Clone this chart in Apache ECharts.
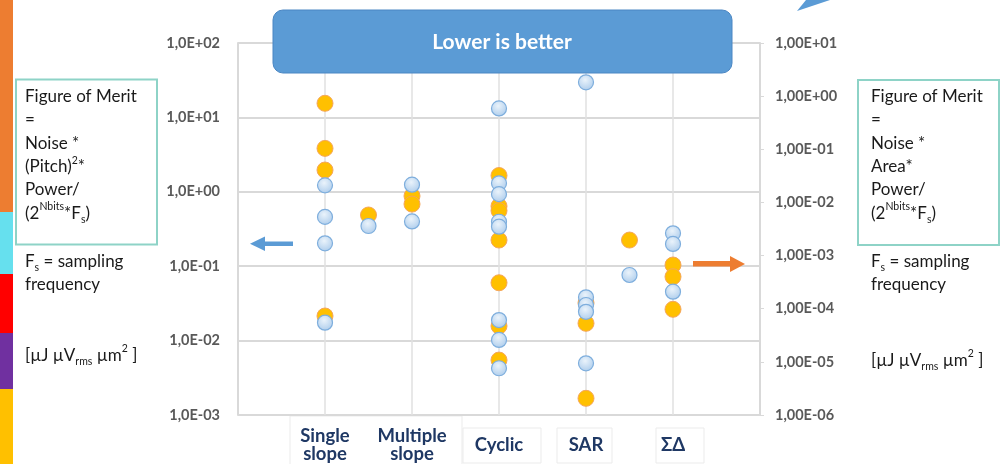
<!DOCTYPE html>
<html>
<head>
<meta charset="utf-8">
<script src="https://cdn.jsdelivr.net/npm/echarts@6/dist/echarts.min.js"></script>
<style>
html,body{margin:0;padding:0;background:#fff;}
#chart{width:1005px;height:464px;}
</style>
</head>
<body>
<div id="chart"></div>
<script>
// ---- data ----
const categories = ['Single\nslope', 'Multiple\nslope', 'Cyclic', 'SAR', 'ΣΔ'];
const leftTickLabels = ['1,0E-03', '1,0E-02', '1,0E-01', '1,0E+00', '1,0E+01', '1,0E+02'];
const rightTickLabels = ['1,00E-06', '1,00E-05', '1,00E-04', '1,00E-03', '1,00E-02', '1,00E-01', '1,00E+00', '1,00E+01'];

// FoM with (Pitch)^2 -> left axis (blue)
const pitchX   = [1, 1, 1, 1, 1.5, 2, 2, 3, 3, 3, 3, 3, 3, 3, 3, 4, 4, 4, 4, 4, 4.5, 5, 5, 5];
const pitchFoM = [1.22, 0.46, 0.203, 0.0174, 0.347, 1.245, 0.40, 13.2, 1.30, 0.93, 0.396, 0.34, 0.0189, 0.0102, 0.00425, 29.6, 0.0382, 0.0301, 0.0244, 0.00495, 0.0762, 0.277, 0.199, 0.0454];

// FoM with Area -> right axis (orange)
const areaX   = [1, 1, 1, 1, 1.5, 2, 2, 3, 3, 3, 3, 3, 3, 3, 4, 4, 4, 4.5, 5, 5, 5];
const areaFoM = [0.733, 0.104, 0.0407, 7.29e-5, 0.0058, 0.0132, 0.0093, 0.0321, 0.0085, 0.0070, 0.00196, 3.08e-4, 4.72e-5, 1.08e-5, 1.28e-4, 5.31e-5, 2.06e-6, 0.00196, 6.64e-4, 4.0e-4, 9.75e-5];

const bannerText = 'Lower is better';

// ---- chart ----
const chart = echarts.init(document.getElementById('chart'), null, {renderer: 'canvas'});
const FONT = 'Lato, "Open Sans", sans-serif';
const gridColor = '#D9D9D9';

const leftBoxText = '{n|Figure of Merit}\n{n|=}\n{n|Noise *}\n{n|(Pitch)}{sup|2}{n|*}\n{n|Power/}\n{n|(2}{sup|Nbits}{n|*F}{sub|s}{n|)}';
const rightBoxText = '{n|Figure of Merit}\n{n|=}\n{n|Noise *}\n{n|Area*}\n{n|Power/}\n{n|(2}{sup|Nbits}{n|*F}{sub|s}{n|)}';
const fsText = '{n|F}{sub|s}{n| = sampling}\n{n|frequency}';
const unitText = '{n|[µJ µV}{sub|rms}{n| µm}{sup|2}{n| ]}';
const rich = {
  n: {fontSize: 17, lineHeight: 23.3, fontFamily: FONT, fill: '#1a1a1a', color: '#1a1a1a'},
  sup: {fontSize: 10.5, lineHeight: 19, verticalAlign: 'top', fontFamily: FONT, fill: '#1a1a1a', color: '#1a1a1a'},
  sub: {fontSize: 10.5, lineHeight: 15, verticalAlign: 'bottom', fontFamily: FONT, fill: '#1a1a1a', color: '#1a1a1a'}
};
function richText(x, y, text) {
  return {type: 'text', x: x, y: y, z: 50, style: {text: text, rich: rich, fontFamily: FONT, fontSize: 17, fill: '#1a1a1a', textVerticalAlign: 'top'}};
}

const option = {
  backgroundColor: '#fff',
  animation: false,
  grid: {left: 238, right: 245, top: 43, bottom: 49},
  xAxis: {
    type: 'value', min: 0, max: 6, interval: 1,
    axisLine: {show: false}, axisTick: {show: false},
    splitLine: {show: true, lineStyle: {color: '#E0E0E0', width: 1.5}},
    axisLabel: {
      formatter: function (v) { return categories[Math.round(v) - 1] || ''; },
      fontFamily: FONT, fontSize: 18.5, fontWeight: 'bold', color: '#1F3864',
      lineHeight: 18.5, verticalAlign: 'middle', margin: 30
    }
  },
  yAxis: [
    {
      type: 'log', logBase: 10, min: 0.001, max: 100, position: 'left',
      axisLine: {show: true, lineStyle: {color: gridColor, width: 2}},
      axisTick: {show: false},
      splitLine: {show: true, lineStyle: {color: gridColor, width: 2}},
      axisLabel: {
        formatter: function (v) { return leftTickLabels[Math.round(Math.log10(v)) + 3]; },
        fontFamily: FONT, fontSize: 14.5, fontWeight: 'bold', color: '#595959', margin: 18
      }
    },
    {
      type: 'log', logBase: 10, min: 1e-6, max: 10, position: 'right', splitNumber: 7,
      axisLine: {show: true, lineStyle: {color: gridColor, width: 2}},
      axisTick: {show: true, length: 4, lineStyle: {color: gridColor}},
      splitLine: {show: false},
      axisLabel: {
        formatter: function (v) { return rightTickLabels[Math.round(Math.log10(v)) + 6]; },
        fontFamily: FONT, fontSize: 14.5, fontWeight: 'bold', color: '#595959', margin: 15
      }
    }
  ],
  series: [
    {
      name: 'Area FoM', type: 'scatter', yAxisIndex: 1, z: 2,
      symbol: 'circle', symbolSize: 16,
      itemStyle: {color: '#FFC000', borderColor: '#F5A65B', borderWidth: 1, opacity: 1},
      data: areaX.map((x, i) => [x, areaFoM[i]])
    },
    {
      name: 'Pitch FoM', type: 'scatter', yAxisIndex: 0, z: 3,
      symbol: 'circle', symbolSize: 15,
      itemStyle: {
        color: new echarts.graphic.RadialGradient(0.45, 0.35, 0.65, [
          {offset: 0, color: '#EAF3FB'}, {offset: 1, color: '#AECDEC'}
        ]),
        borderColor: '#7EAEDD', borderWidth: 1.2, opacity: 1
      },
      data: pitchX.map((x, i) => [x, pitchFoM[i]])
    }
  ],
  graphic: [
    // left colour strip
    {type: 'rect', z: 40, shape: {x: 0, y: 0, width: 13, height: 212}, style: {fill: '#ED7D31'}},
    {type: 'rect', z: 40, shape: {x: 0, y: 212, width: 13, height: 62}, style: {fill: '#66E0EE'}},
    {type: 'rect', z: 40, shape: {x: 0, y: 274, width: 13, height: 59}, style: {fill: '#FF0000'}},
    {type: 'rect', z: 40, shape: {x: 0, y: 333, width: 13, height: 56}, style: {fill: '#7030A0'}},
    {type: 'rect', z: 40, shape: {x: 0, y: 389, width: 13, height: 75}, style: {fill: '#FFC000'}},
    // category boxes
    {type: 'rect', z: -1, shape: {x: 290, y: 416, width: 172, height: 60}, style: {fill: 'none', stroke: '#EBEBEB', lineWidth: 1}},
    {type: 'rect', z: -1, shape: {x: 463, y: 428, width: 78, height: 35}, style: {fill: 'none', stroke: '#EBEBEB', lineWidth: 1}},
    {type: 'rect', z: -1, shape: {x: 557, y: 428, width: 55, height: 35}, style: {fill: 'none', stroke: '#EBEBEB', lineWidth: 1}},
    {type: 'rect', z: -1, shape: {x: 656, y: 428, width: 48, height: 35}, style: {fill: 'none', stroke: '#EBEBEB', lineWidth: 1}},
    // text boxes
    {type: 'rect', z: 45, shape: {x: 16, y: 79.5, width: 141, height: 165}, style: {fill: '#fff', stroke: '#8ED3C7', lineWidth: 2}},
    {type: 'rect', z: 45, shape: {x: 858, y: 80, width: 141, height: 165}, style: {fill: '#fff', stroke: '#8ED3C7', lineWidth: 2}},
    richText(25, 85, leftBoxText),
    richText(871, 85, rightBoxText),
    richText(25, 250, fsText),
    richText(871, 250, fsText),
    richText(25, 343.5, unitText),
    richText(871, 348.5, unitText),
    // arrows
    {type: 'rect', z: 60, shape: {x: 263, y: 241.5, width: 30, height: 4.5}, style: {fill: '#5B9BD5'}},
    {type: 'polygon', z: 60, shape: {points: [[250, 243.7], [265, 236.5], [265, 251]]}, style: {fill: '#5B9BD5'}},
    {type: 'rect', z: 60, shape: {x: 693, y: 261, width: 38, height: 5.5}, style: {fill: '#ED7D31'}},
    {type: 'polygon', z: 60, shape: {points: [[745, 264], [730, 256], [730, 272]]}, style: {fill: '#ED7D31'}},
    // top-right fragment
    {type: 'polygon', z: 60, shape: {points: [[806, 0], [830, 0], [797, 11]]}, style: {fill: '#5B9BD5'}},
    // banner
    {type: 'rect', z: 100, shape: {x: 273, y: 10, width: 459, height: 63, r: 10}, style: {fill: '#5B9BD5', stroke: '#4A86C3', lineWidth: 1}},
    {type: 'text', z: 101, x: 502, y: 42, style: {text: bannerText, fill: '#fff', font: 'bold 21px ' + FONT, textAlign: 'center', textVerticalAlign: 'middle'}}
  ]
};
chart.setOption(option);
</script>
</body>
</html>
